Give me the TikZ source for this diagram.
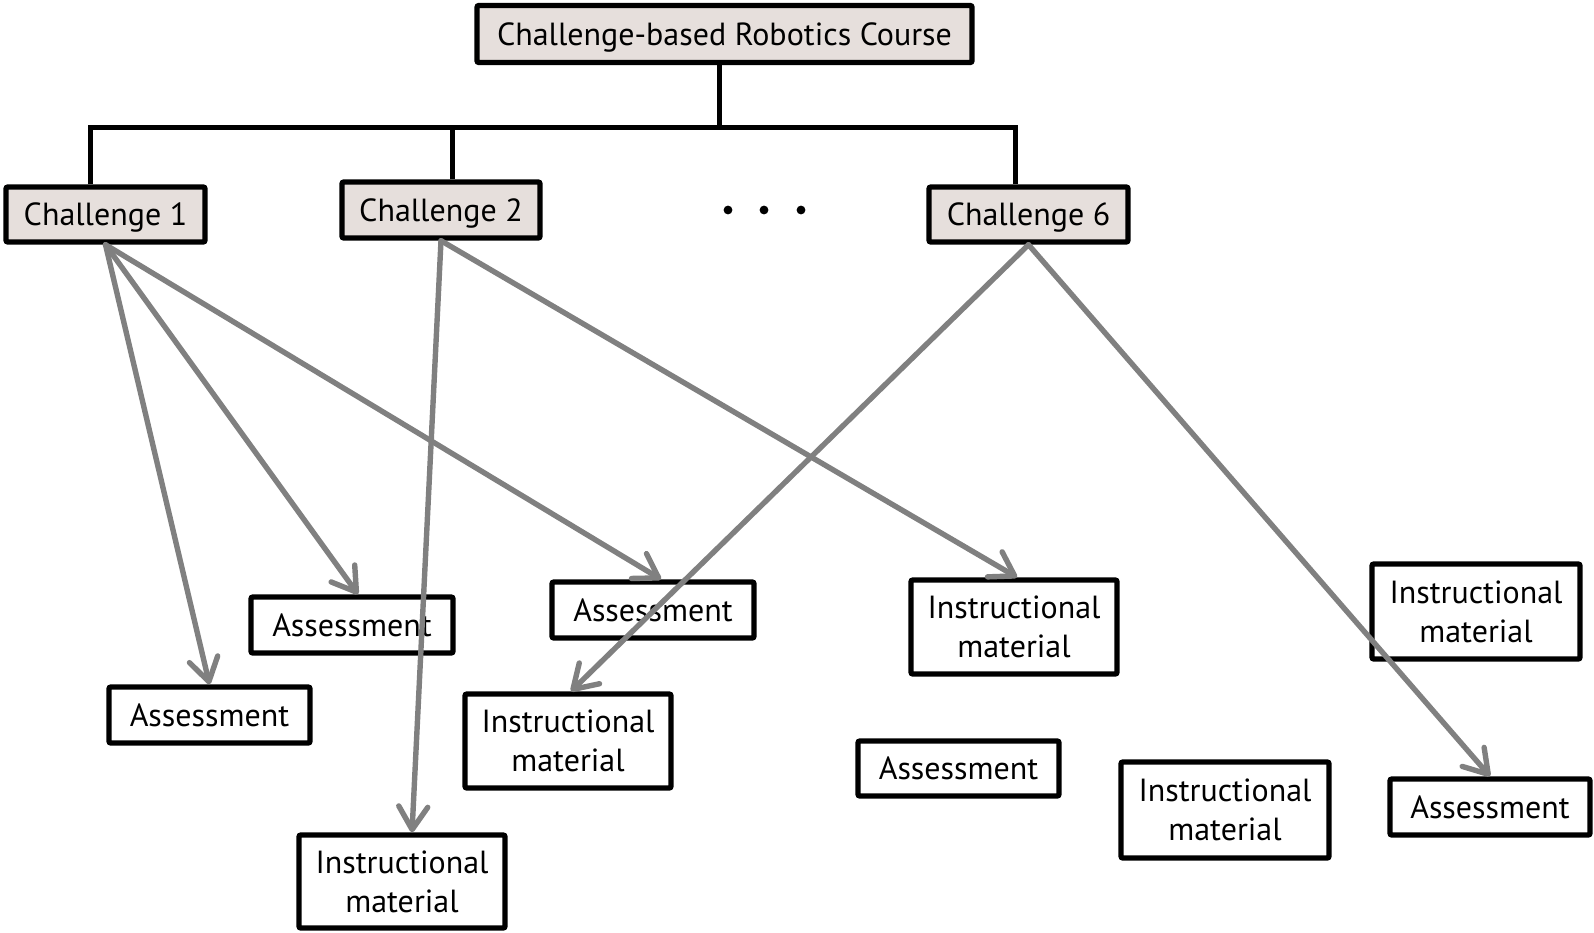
\documentclass[tikz,border=0pt]{standalone}
\usepackage{fontspec}
\setmainfont{PT Sans}
\usetikzlibrary{arrows.meta,calc}
\definecolor{headfill}{HTML}{E6DFDC}
\definecolor{linkgray}{HTML}{808080}
\begin{document}
\begin{tikzpicture}[x=0.5pt,y=-0.5pt,
  sz/.style 2 args={minimum width=#1*0.5pt, minimum height=#2*0.5pt},
  box/.style={draw=black, line width=2.7pt, rounded corners=1pt, fill=white,
    inner sep=0pt, align=center, font=\fontsize{16}{19.5}\selectfont},
  oneline/.style={text height=11.4pt, text depth=0pt},
  head/.style={box, oneline, fill=headfill},
  link/.style={draw=linkgray, line width=2.7pt, line cap=round,
    -{Straight Barb[length=11.5pt,width=14.5pt,line cap=round,line join=round]}},
  tree/.style={line width=2.5pt},
  dot/.style={circle, fill=black, inner sep=0pt, minimum size=4.4pt}]
\useasboundingbox (0,0) rectangle (1594,932);

% course and challenges
\node[head, sz={495}{57}] (course) at (724.5,34) {Challenge-based Robotics Course};
\node[head, sz={199}{55}] (c1) at (105.5,214.5) {Challenge 1};
\node[head, sz={198}{56}] (c2) at (441,210) {Challenge 2};
\node[head, sz={199}{55}] (c6) at (1028.5,214.5) {Challenge 6};

% ellipsis between challenges
\node[dot] (d1) at (728,210) {};
\node[dot] (d2) at (764,210) {};
\node[dot] (d3) at (801,210) {};

% course components
\node[box, oneline, sz={201}{56}] (a1) at (209.5,715) {Assessment};
\node[box, oneline, sz={202}{56}] (a2) at (352,625) {Assessment};
\node[box, oneline, sz={202}{56}] (a3) at (653,610) {Assessment};
\node[box, sz={206}{93}] (im1) at (402,881.5) {Instructional\\material};
\node[box, sz={206}{94}] (im2) at (568,741) {Instructional\\material};
\node[box, sz={206}{94}] (im3) at (1014,627) {Instructional\\material};
\node[box, oneline, sz={201}{55}] (a4) at (958.5,768.5) {Assessment};
\node[box, sz={208}{96}] (im4) at (1225,810) {Instructional\\material};
\node[box, sz={208}{95}] (im5) at (1476,611.5) {Instructional\\material};
\node[box, oneline, sz={200}{56}] (a5) at (1490,807) {Assessment};

% hierarchy bus
\coordinate (bus) at (719,127);
\path ($(c2.north)+(11,0)$) coordinate (c2top);
\draw[tree] ($(course.south)+(-5.5,0)$) -- (bus);
\draw[tree] ($(c1.north)+(-15.5,0)$) |- (bus) -| ($(c6.north)+(-13.5,0)$);
\draw[tree] (c2top) -- (c2top |- bus);

% links from challenges to components
\draw[link] (c1.south) -- (a1.north);
\draw[link] (c1.south) -- ($(a2.north)+(6,0)$);
\draw[link] (c1.south) -- ($(a3.north)+(8,0)$);
\draw[link] (c2.south) -- ($(im1.north)+(10,0)$);
\draw[link] (c2.south) -- ($(im3.north)+(3,0)$);
\draw[link] (c6.south) -- ($(im2.north)+(3,0)$);
\draw[link] (c6.south) -- (a5.north);
\end{tikzpicture}
\end{document}
